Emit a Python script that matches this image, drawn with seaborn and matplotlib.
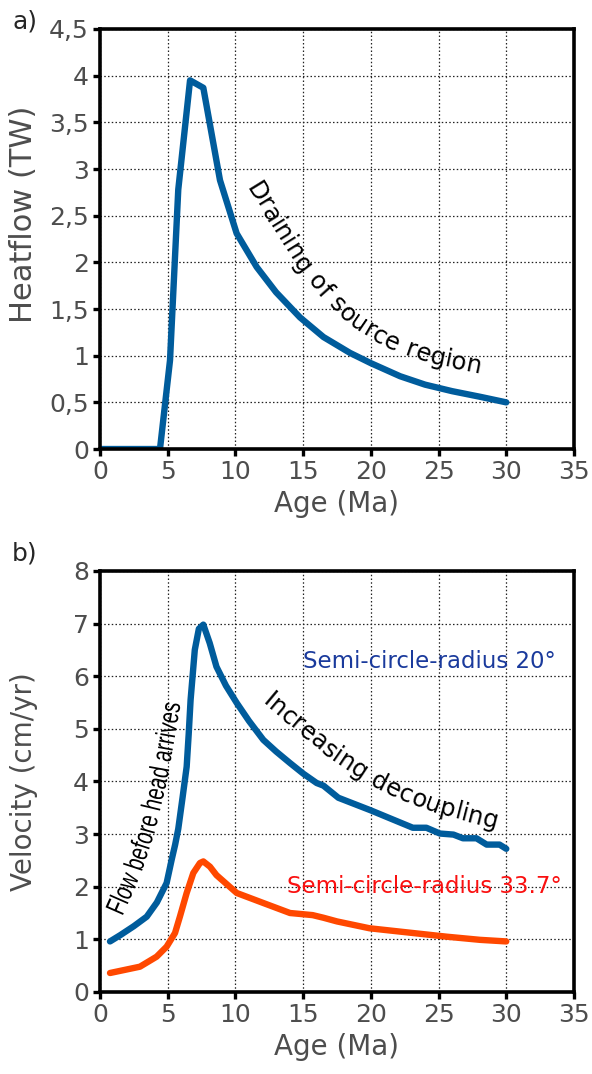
import numpy as np
import matplotlib
matplotlib.use("Agg")
import matplotlib.pyplot as plt
import seaborn as sns
from matplotlib.font_manager import FontProperties
from matplotlib.textpath import TextPath
from matplotlib.patches import PathPatch
from matplotlib.transforms import Affine2D

# ---- data -------------------------------------------------------------
heat_age = [0.0, 4.43, 5.17, 5.78, 6.65, 7.63, 8.86, 10.09, 11.57, 13.0,
            14.77, 16.5, 18.46, 20.0, 22.16, 24.0, 26.0, 28.06, 30.0]
heat_flow = [0.0, 0.0, 0.95, 2.78, 3.95, 3.87, 2.88, 2.31, 1.95, 1.68,
             1.41, 1.2, 1.03, 0.92, 0.78, 0.69, 0.62, 0.56, 0.5]

vel_age_20 = [0.74, 1.5, 2.5, 3.45, 4.2, 4.92, 5.29, 5.55, 5.78, 6.1, 6.4,
              6.55, 6.69, 7.0, 7.3, 7.63, 8.1, 8.6, 9.3, 10.1, 11.0, 12.06,
              13.0, 14.03, 15.0, 16.0, 16.5, 17.6, 19.0, 20.0, 21.5, 23.1,
              24.1, 25.1, 26.1, 26.8, 27.8, 28.55, 29.5, 30.0]
vel_20 = [0.96, 1.08, 1.25, 1.43, 1.7, 2.07, 2.51, 2.8, 3.1, 3.7, 4.28,
          4.9, 5.55, 6.5, 6.9, 6.98, 6.63, 6.18, 5.82, 5.49, 5.15, 4.79,
          4.57, 4.35, 4.15, 3.97, 3.92, 3.69, 3.55, 3.45, 3.29, 3.12,
          3.12, 3.01, 2.99, 2.92, 2.92, 2.8, 2.8, 2.72]

vel_age_337 = [0.74, 2.95, 4.18, 4.92, 5.54, 5.9, 6.4, 6.89, 7.38, 7.63,
               8.12, 8.6, 10.1, 12.06, 14.03, 15.7, 16.5, 17.5, 19.9, 23.1,
               25.6, 28.06, 30.0]
vel_337 = [0.36, 0.48, 0.67, 0.86, 1.12, 1.43, 1.88, 2.26, 2.45, 2.48,
           2.38, 2.22, 1.88, 1.69, 1.5, 1.46, 1.41, 1.34, 1.21, 1.12,
           1.05, 0.99, 0.96]

x_ticks = [0, 5, 10, 15, 20, 25, 30, 35]
heat_ticks = [0, 0.5, 1, 1.5, 2, 2.5, 3, 3.5, 4, 4.5]
heat_tick_labels = ["0", "0,5", "1", "1,5", "2", "2,5", "3", "3,5", "4", "4,5"]
vel_ticks = [0, 1, 2, 3, 4, 5, 6, 7, 8]

# ---- style ------------------------------------------------------------
sns.set_theme(style="white")
plt.rcParams["font.family"] = ["DejaVu Sans"]

BLUE = "#005c9c"
ORANGE = "#ff4800"
TICK_GREY = "#4d4d4d"

fig = plt.figure(figsize=(5.92, 10.74), dpi=100)
ax_a = fig.add_axes([0.1689, 0.5819, 0.8007, 0.3911])
ax_b = fig.add_axes([0.1689, 0.0764, 0.8007, 0.3920])

sns.lineplot(x=heat_age, y=heat_flow, ax=ax_a, color=BLUE, linewidth=4.6,
             sort=False)
sns.lineplot(x=vel_age_20, y=vel_20, ax=ax_b, color=BLUE, linewidth=4.6,
             sort=False)
sns.lineplot(x=vel_age_337, y=vel_337, ax=ax_b, color=ORANGE, linewidth=4.6,
             sort=False)


def style_axes(ax, yticks, ylabels, ymax, ylabel, label_size, label_y):
    ax.set_xlim(0, 35)
    ax.set_ylim(0, ymax)
    ax.set_xticks(x_ticks)
    ax.set_xticklabels([str(t) for t in x_ticks])
    ax.set_yticks(yticks)
    ax.set_yticklabels(ylabels)
    ax.grid(True, color="#222222", linestyle=(0, (1.2, 1.8)), linewidth=0.9)
    ax.set_axisbelow(True)
    for sp in ax.spines.values():
        sp.set_visible(True)
        sp.set_color("black")
        sp.set_linewidth(2.6)
    ax.tick_params(axis="both", which="major", direction="out", length=5,
                   width=2.4, color="black", labelsize=18,
                   labelcolor=TICK_GREY, pad=3, left=True, bottom=True)
    ax.set_xlabel("Age (Ma)", fontsize=20, color=TICK_GREY, labelpad=4)
    ax.set_ylabel(ylabel, fontsize=label_size, color=TICK_GREY)
    ax.yaxis.set_label_coords(-0.13, label_y)


style_axes(ax_a, heat_ticks, heat_tick_labels, 4.5, "Heatflow (TW)", 22, 0.56)
style_axes(ax_b, vel_ticks, [str(t) for t in vel_ticks], 8,
           "Velocity (cm/yr)", 20, 0.5)

fig.text(12 / 592, 1 - 21 / 1074, "a)", fontsize=18, va="center", ha="left")
fig.text(12 / 592, 1 - 554 / 1074, "b)", fontsize=18, va="center", ha="left")

ax_b.text(14.99, 6.27, "Semi-circle-radius 20°", color="#1a3a9c",
          fontsize=16.5, ha="left", va="center")
ax_b.text(13.81, 2.0, "Semi-circle-radius 33.7°", color="#fa1010",
          fontsize=16.5, ha="left", va="center")

renderer = fig.canvas.get_renderer()


def text_on_path(ax, s, gx, gy, fontsize, color="black", family="DejaVu Sans",
                 xscale=1.0):
    """Lay out the characters of s along a guide polyline (data coords).

    With xscale != 1 the glyphs are drawn as outlines squeezed horizontally.
    """
    pts = ax.transData.transform(np.column_stack([gx, gy]))
    seg = np.diff(pts, axis=0)
    seglen = np.hypot(seg[:, 0], seg[:, 1])
    cum = np.concatenate([[0.0], np.cumsum(seglen)])
    fp = FontProperties(family=family, size=fontsize)
    em = fontsize * fig.dpi / 72.0
    widths = [xscale * renderer.get_text_width_height_descent(
        ch, fp, ismath=False)[0] for ch in s]
    total = sum(widths)
    pos = (cum[-1] - total) / 2.0

    def point_at(d):
        i = int(np.clip(np.searchsorted(cum, d) - 1, 0, len(seg) - 1))
        t = (d - cum[i]) / seglen[i]
        return pts[i] + t * seg[i]

    inv = ax.transData.inverted()
    for ch, w in zip(s, widths):
        c = point_at(pos + w / 2.0)
        d = point_at(pos + max(w, 1.0)) - point_at(pos)
        ang = np.arctan2(d[1], d[0])
        normal = np.array([-np.sin(ang), np.cos(ang)])
        base = c - 0.28 * em * normal
        if ch.strip():
            if xscale == 1.0:
                xd, yd = inv.transform(base)
                ax.text(xd, yd, ch, fontsize=fontsize, color=color,
                        family=family, rotation=np.degrees(ang),
                        rotation_mode="anchor", ha="center", va="baseline")
            else:
                glyph = TextPath((0, 0), ch, size=em, prop=fp)
                tr = (Affine2D().translate(-w / xscale / 2.0, 0)
                      .scale(xscale, 1.0).rotate(ang)
                      .translate(base[0], base[1]))
                fig.add_artist(PathPatch(glyph, transform=tr, facecolor=color,
                                         edgecolor="none", zorder=5))
        pos += w


# curved annotations
drain_gx = [11.22, 12.92, 14.77, 16.61, 18.83, 21.41, 24.37, 28.06]
drain_gy = [2.83, 2.43, 2.00, 1.68, 1.36, 1.14, 0.99, 0.88]
text_on_path(ax_a, "Draining of source region", drain_gx, drain_gy, 17.5)

decoup_gx = [12.40, 14.77, 17.35, 19.57, 22.15, 25.10, 29.17]
decoup_gy = [5.55, 5.04, 4.50, 4.12, 3.78, 3.50, 3.23]
text_on_path(ax_b, "Increasing decoupling", decoup_gx, decoup_gy, 17.5)

flow_gx = [1.05, 2.5, 3.5, 4.4, 4.95, 5.42]
flow_gy = [1.45, 2.3, 3.08, 4.05, 4.85, 5.55]
text_on_path(ax_b, "Flow before head arrives", flow_gx, flow_gy, 20,
             family="Liberation Sans", xscale=0.72)

fig.savefig("out.png", dpi=100)
